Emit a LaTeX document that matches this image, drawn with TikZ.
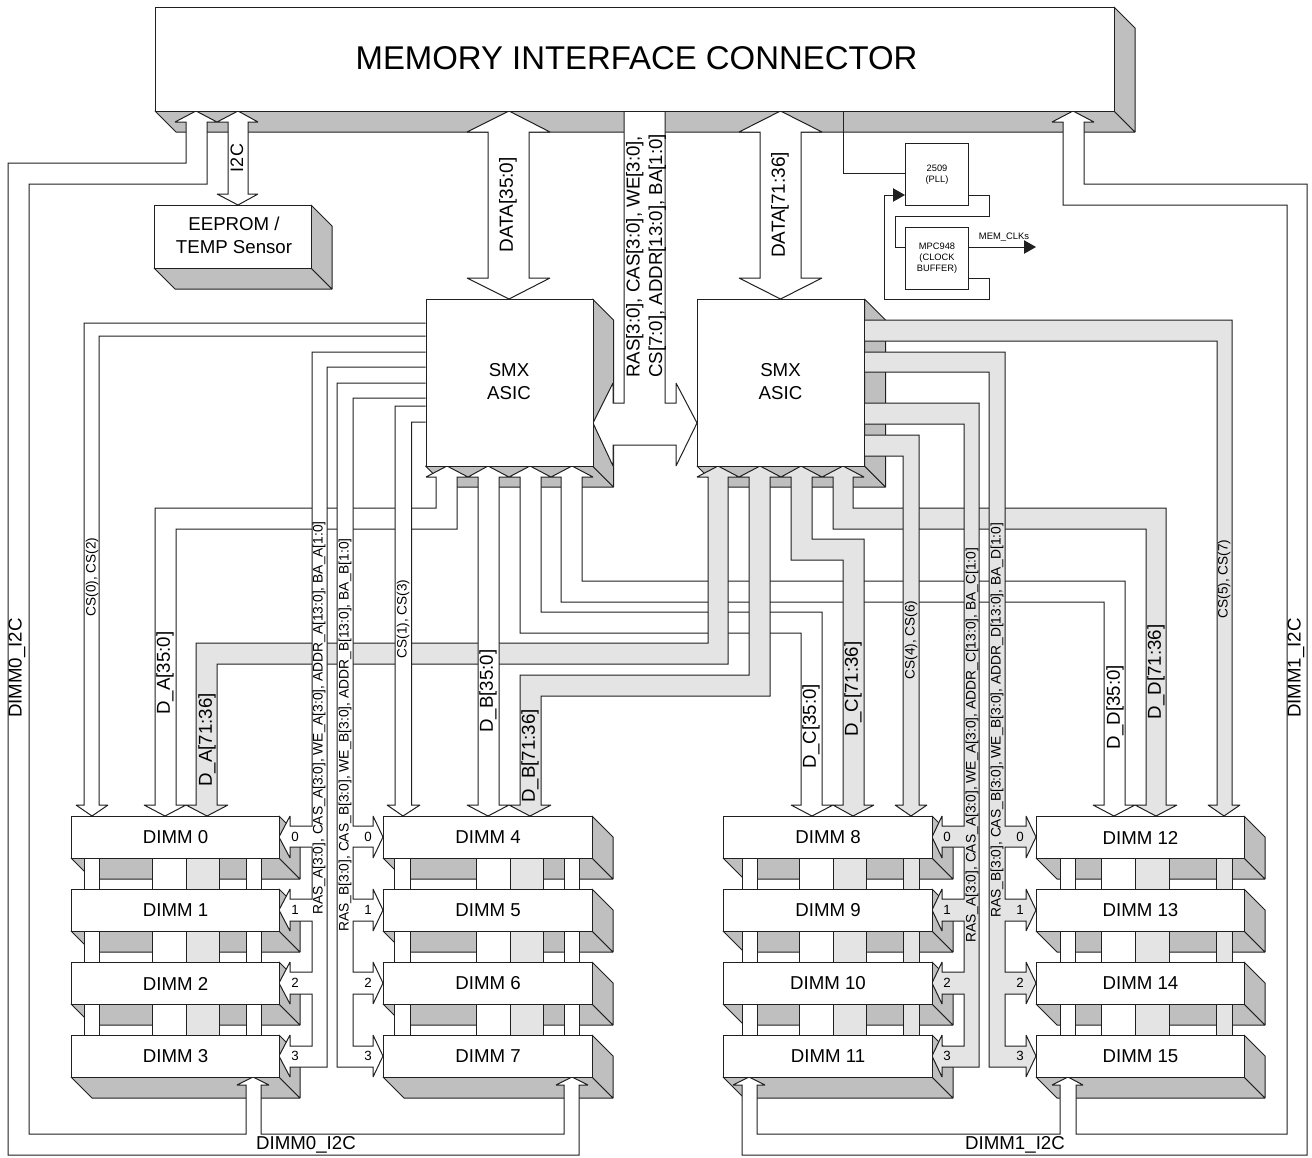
\documentclass[tikz,border=0pt]{standalone}
\usepackage{fontspec}
\setmainfont{Liberation Sans}
\usetikzlibrary{arrows.meta}
\newcommand\fsz[1]{\fontsize{\dimexpr#1pt*3/4\relax}{\dimexpr#1pt*9/10\relax}\selectfont}
\definecolor{shade}{HTML}{BFBFBF}
\definecolor{lbus}{HTML}{E4E4E4}
\definecolor{ink}{HTML}{202020}
\tikzset{
  ln/.style={draw=ink,line width=.75pt,line join=miter,miter limit=2},
  wbus/.style={ln,fill=white},
  gbus/.style={ln,fill=lbus},
  shd/.style={ln,fill=shade},
  front/.style={ln,fill=white,rectangle,inner sep=0pt,align=center},
  big/.style={font=\fsz{18.67}},
  lab/.style={inner sep=0pt,font=\fsz{18.67}},
  vlab/.style={lab,rotate=90},
  slab/.style={inner sep=0pt,font=\fsz{13.8},rotate=90,anchor=west},
  cslab/.style={inner sep=0pt,font=\fsz{13.6},rotate=90},
  num/.style={inner sep=0pt,font=\fsz{13.33}},
  tiny/.style={front,font=\fsz{9.3}},
  clk/.style={draw=ink,line width=.75pt},
  clkarrow/.style={clk,-{Triangle[length=9pt,width=10pt]}},
}
% shadow of a box with corners (x1,y1),(x2,y2), depth 21
\newcommand\boxshade[4]{%
  \draw[shd] (#1,#4) -- ({#1+21},{#4+21}) -- ({#3+21},{#4+21}) -- (#3,#4) -- cycle;
  \draw[shd] (#3,#2) -- ({#3+21},{#2+21}) -- ({#3+21},{#4+21}) -- (#3,#4) -- cycle;
}
\newcommand\stackshade[2]{% x1 x2
  \foreach \yy in {816,889,962,1035}{\boxshade{#1}{\yy}{#2}{\the\numexpr\yy+42\relax}}%
}
\newcommand\stackcols[4]{% four columns: x1/x2/style
  \foreach \yy in {858,931,1004}{%
    \foreach \a/\b/\s in {#1,#2,#3,#4}{%
      \draw[\s] (\a,\yy) rectangle (\b,\yy+31);
    }%
  }%
}
\newcommand\dimmbox[5]{% name x1 x2 y text
  \node[front,big,minimum width={(#3-#2)*.75pt},minimum height=31.5pt,anchor=north west] (#1) at (#2,#4) {#5};
}
\begin{document}
\begin{tikzpicture}[x=.75pt,y=-.75pt]
\useasboundingbox (0,0) rectangle (1312,1157);
\fill[white] (0,0) rectangle (1312,1157);
% shadows
\boxshade{155}{7}{1114}{111}
\boxshade{154}{205}{311}{268}
\boxshade{425.5}{299}{592.5}{466}
\boxshade{697}{299}{864.5}{466}
\stackshade{71}{279}
\stackshade{383}{592}
\stackshade{723}{932}
\stackshade{1036}{1244}
% columns between DIMMs
\stackcols{84/99/wbus}{152/186/wbus}{186/219/gbus}{246/261/wbus}
\stackcols{394/410/wbus}{476/510/wbus}{510/543/gbus}{564/579/wbus}
\stackcols{742/757/wbus}{799/833/wbus}{833/866/gbus}{903/919/gbus}
\stackcols{1060/1075/wbus}{1101/1135/wbus}{1135/1169/gbus}{1216/1232/gbus}
% I2C trees
\draw[wbus] (196,111)--(217,122)--(207,122)--(207,184)--(29,184)--(29,1134)--(246,1134)--(246,1085)--(237,1085)--(253,1077)--(269,1085)--(261,1085)--(261,1134)--(564,1134)--(564,1085)--(556,1085)--(572,1077)--(588,1085)--(579,1085)--(579,1155)--(8,1155)--(8,163)--(186,163)--(186,122)--(175,122)--cycle;
\draw[wbus] (1073,111)--(1094,122)--(1084,122)--(1084,184)--(1307,184)--(1307,1155)--(742,1155)--(742,1085)--(733,1085)--(749,1077)--(765,1085)--(757,1085)--(757,1134)--(1060,1134)--(1060,1085)--(1052,1085)--(1068,1077)--(1083,1085)--(1076,1085)--(1076,1134)--(1287,1134)--(1287,205)--(1063,205)--(1063,122)--(1052,122)--cycle;
% I2C to EEPROM
\draw[wbus] (238,111)--(258,122)--(248,122)--(248,194)--(258,194)--(238,205)--(217,194)--(228,194)--(228,122)--(217,122)--cycle;
% data
\draw[wbus] (509,111)--(550,132)--(529,132)--(529,278)--(550,278)--(509,299)--(467,278)--(488,278)--(488,132)--(467,132)--cycle;
\draw[wbus] (780.5,111)--(822,132)--(801,132)--(801,278)--(822,278)--(780.5,299)--(739,278)--(760,278)--(760,132)--(739,132)--cycle;
% command bus with double arrow
\draw[wbus] (624,111)--(624,403)--(613,403)--(613,383)--(593,423)--(613,466)--(613,445)--(676,445)--(676,466)--(697,423)--(676,383)--(676,403)--(665,403)--(665,111);
% SMX bottom arrows
\draw[wbus] (447,466)--(468,477)--(457,477)--(457,529)--(176,529)--(176,805)--(186,805)--(165,816)--(144,805)--(155,805)--(155,508)--(436,508)--(436,477)--(426,477)--cycle;
\draw[wbus] (530,466)--(551,477)--(541,477)--(541,612)--(822,612)--(822,805)--(833,805)--(812,816)--(791,805)--(801,805)--(801,633)--(520,633)--(520,477)--(509,477)--cycle;
\draw[wbus] (572,466)--(593,477)--(582,477)--(582,581)--(1125,581)--(1125,805)--(1135,805)--(1114,816)--(1093,805)--(1104,805)--(1104,602)--(561,602)--(561,477)--(551,477)--cycle;
\draw[gbus] (843,466)--(864,477)--(853,477)--(853,508)--(1166,508)--(1166,805)--(1177,805)--(1156,816)--(1135,805)--(1146,805)--(1146,529)--(833,529)--(833,477)--(822,477)--cycle;
\draw[gbus] (801,466)--(822,477)--(812,477)--(812,539)--(864,539)--(864,805)--(874,805)--(853,816)--(833,805)--(843,805)--(843,560)--(791,560)--(791,477)--(781,477)--cycle;
\draw[gbus] (718,466)--(739,477)--(728,477)--(728,664)--(217,664)--(217,805)--(228,805)--(207,816)--(186,805)--(196,805)--(196,643)--(708,643)--(708,477)--(697,477)--cycle;
\draw[gbus] (760,466)--(781,477)--(770,477)--(770,696)--(541,696)--(541,805)--(551,805)--(530,816)--(509,805)--(520,805)--(520,675)--(749,675)--(749,477)--(739,477)--cycle;
\draw[wbus] (488,466)--(509,477)--(499,477)--(499,805)--(509,805)--(488,816)--(467,805)--(478,805)--(478,477)--(468,477)--cycle;
% chip selects, left
\draw[wbus] (425.5,323)--(84,323)--(84,805)--(76,805)--(92,816)--(108,805)--(99,805)--(99,336)--(425.5,336);
\draw[wbus] (425.5,406)--(395,406)--(395,805)--(387,805)--(403,816)--(420,805)--(411.5,805)--(411.5,422)--(425.5,422);
% address buses, left
\draw[wbus] (425.5,352)--(312,352)--(312,826)--(290,826)--(290,816)--(279,837)--(290,858)--(290,847)--(312,847)--(312,899)--(290,899)--(290,889)--(279,910)--(290,931)--(290,921)--(312,921)--(312,972)--(290,972)--(290,962)--(279,983)--(290,1004)--(290,994)--(312,994)--(312,1046)--(290,1046)--(290,1035)--(279,1056)--(290,1077)--(290,1067)--(327,1067)--(327,367)--(425.5,367);
\draw[wbus] (425.5,383)--(337,383)--(337,1067)--(373,1067)--(373,1077)--(383,1056)--(373,1035)--(373,1046)--(353,1046)--(353,994)--(373,994)--(373,1004)--(383,983)--(373,962)--(373,972)--(353,972)--(353,921)--(373,921)--(373,931)--(383,910)--(373,889)--(373,899)--(353,899)--(353,847)--(373,847)--(373,858)--(383,837)--(373,816)--(373,826)--(353,826)--(353,398)--(425.5,398);
% right side
\draw[gbus] (864.5,320)--(1232,320)--(1232,805)--(1240,805)--(1224,816)--(1208,805)--(1217,805)--(1217,341)--(864.5,341);
\draw[gbus] (864.5,435)--(919,435)--(919,805)--(927,805)--(911,816)--(895,805)--(903,805)--(903,456)--(864.5,456);
\draw[gbus] (864.5,403)--(979,403)--(979,1067)--(942,1067)--(942,1077)--(932,1056)--(942,1035)--(942,1046)--(964,1046)--(964,994)--(942,994)--(942,1004)--(932,983)--(942,962)--(942,972)--(964,972)--(964,921)--(942,921)--(942,931)--(932,910)--(942,889)--(942,899)--(964,899)--(964,847)--(942,847)--(942,858)--(932,837)--(942,816)--(942,826)--(964,826)--(964,424)--(864.5,424);
\draw[gbus] (864.5,352)--(1005,352)--(1005,826)--(1026,826)--(1026,816)--(1036,837)--(1026,858)--(1026,847)--(1005,847)--(1005,899)--(1026,899)--(1026,889)--(1036,910)--(1026,931)--(1026,921)--(1005,921)--(1005,972)--(1026,972)--(1026,962)--(1036,983)--(1026,1004)--(1026,994)--(1005,994)--(1005,1046)--(1026,1046)--(1026,1035)--(1036,1056)--(1026,1077)--(1026,1067)--(989,1067)--(989,372)--(864.5,372);
% front faces
\node[front,minimum width=719.25pt,minimum height=78pt,anchor=north west] (conn) at (155,7) {};
\node[inner sep=0pt,font=\fsz{32.9}] (conntext) at (636.5,58) {MEMORY INTERFACE CONNECTOR};
\node[front,big,minimum width=117.75pt,minimum height=47.25pt,anchor=north west] (eeprom) at (154,205) {};
\node[lab,align=center] (eepromtext) at (234,235.5) {EEPROM /\\TEMP Sensor};
\node[front,big,minimum width=125.25pt,minimum height=125.25pt,anchor=north west] (smxa) at (425.5,299) {};
\node[lab,align=center] (smxatext) at (509,381.5) {SMX\\ASIC};
\node[front,big,minimum width=125.6pt,minimum height=125.25pt,anchor=north west] (smxb) at (697,299) {};
\node[lab,align=center] (smxbtext) at (780.5,381.5) {SMX\\ASIC};
\dimmbox{d0}{71}{279}{816}{DIMM 0}
\dimmbox{d1}{71}{279}{889}{DIMM 1}
\dimmbox{d2}{71}{279}{962}{DIMM 2}
\dimmbox{d3}{71}{279}{1035}{DIMM 3}
\dimmbox{d4}{383}{592}{816}{DIMM 4}
\dimmbox{d5}{383}{592}{889}{DIMM 5}
\dimmbox{d6}{383}{592}{962}{DIMM 6}
\dimmbox{d7}{383}{592}{1035}{DIMM 7}
\dimmbox{d8}{723}{932}{816}{DIMM 8}
\dimmbox{d9}{723}{932}{889}{DIMM 9}
\dimmbox{d10}{723}{932}{962}{DIMM 10}
\dimmbox{d11}{723}{932}{1035}{DIMM 11}
\dimmbox{d12}{1036}{1244}{816}{DIMM 12}
\dimmbox{d13}{1036}{1244}{889}{DIMM 13}
\dimmbox{d14}{1036}{1244}{962}{DIMM 14}
\dimmbox{d15}{1036}{1244}{1035}{DIMM 15}
% clock section
\node[tiny,minimum width=47.25pt,minimum height=46.5pt,anchor=north west] (pll) at (905,143) {2509\\(PLL)};
\node[tiny,minimum width=47.25pt,minimum height=46.5pt,anchor=north west] (buf) at (905,227) {MPC948\\(CLOCK\\BUFFER)};
\coordinate (memclk) at (1036,247);
\draw[clk] (843,111) -- (843,173) -- (pll.west |- 843,173);
\draw[clk] (pll.east |- 905,195) -- (989,195) -- (989,216) -- (895,216) -- (895,247) -- (buf.west |- 905,247);
\draw[clk] (buf.east |- 905,278) -- (989,278) -- (989,299) -- (884,299) -- (884,195) -- (893,195);
\draw[clkarrow] (884,195) -- (pll.west |- 884,195);
\draw[clkarrow] (buf.east |- 905,247) -- (memclk);
\node[inner sep=0pt,font=\fsz{9.4}] (memlab) at (1004,237) {MEM\_CLKs};
% labels
\node[vlab,font=\fsz{18}] (li2c) at (237,158) {I2C};
\node[vlab,font=\fsz{19}] (ldata0) at (508,205) {DATA[35:0]};
\node[vlab,font=\fsz{19}] (ldata1) at (780,205) {DATA[71:36]};
\node[lab,rotate=90,anchor=west,align=left] (lcmd) at (646,378) {RAS[3:0], CAS[3:0], WE[3:0],\\CS[7:0], ADDR[13:0], BA[1:0]};
\node[vlab] (ld0) at (17,668) {DIMM0\_I2C};
\node[vlab] (ld1) at (1296,668) {DIMM1\_I2C};
\node[lab] (ld2) at (306,1145) {DIMM0\_I2C};
\node[lab] (ld3) at (1015,1145) {DIMM1\_I2C};
\node[vlab] (la0) at (165,673) {D\_A[35:0]};
\node[vlab] (la1) at (207,740) {D\_A[71:36]};
\node[vlab] (lb0) at (488,691) {D\_B[35:0]};
\node[vlab] (lb1) at (530,756) {D\_B[71:36]};
\node[vlab] (lc0) at (811,726) {D\_C[35:0]};
\node[vlab] (lc1) at (853,689) {D\_C[71:36]};
\node[vlab] (ldd0) at (1115,707) {D\_D[35:0]};
\node[vlab] (ldd1) at (1156,672) {D\_D[71:36]};
\node[cslab] (cs0) at (92,577) {CS(0), CS(2)};
\node[cslab] (cs1) at (403,619) {CS(1), CS(3)};
\node[cslab] (cs4) at (911,640) {CS(4), CS(6)};
\node[cslab] (cs5) at (1224,579) {CS(5), CS(7)};
\node[slab] (sa) at (319,915) {RAS\_A[3:0], CAS\_A[3:0], WE\_A[3:0], ADDR\_A[13:0], BA\_A[1:0]};
\node[slab] (sb) at (345,932) {RAS\_B[3:0], CAS\_B[3:0], WE\_B[3:0], ADDR\_B[13:0], BA\_B[1:0]};
\node[slab] (sc) at (972,943) {RAS\_A[3:0], CAS\_A[3:0], WE\_A[3:0], ADDR\_C[13:0], BA\_C[1:0]};
\node[slab] (sd) at (997,918) {RAS\_B[3:0], CAS\_B[3:0], WE\_B[3:0], ADDR\_D[13:0], BA\_D[1:0]};
\foreach \n/\yy in {0/837,1/910,2/983,3/1056}{
  \node[num] (na\n) at (295,\yy) {\n};
  \node[num] (nb\n) at (368,\yy) {\n};
  \node[num] (nc\n) at (947,\yy) {\n};
  \node[num] (nd\n) at (1020,\yy) {\n};
}
\end{tikzpicture}
\end{document}
